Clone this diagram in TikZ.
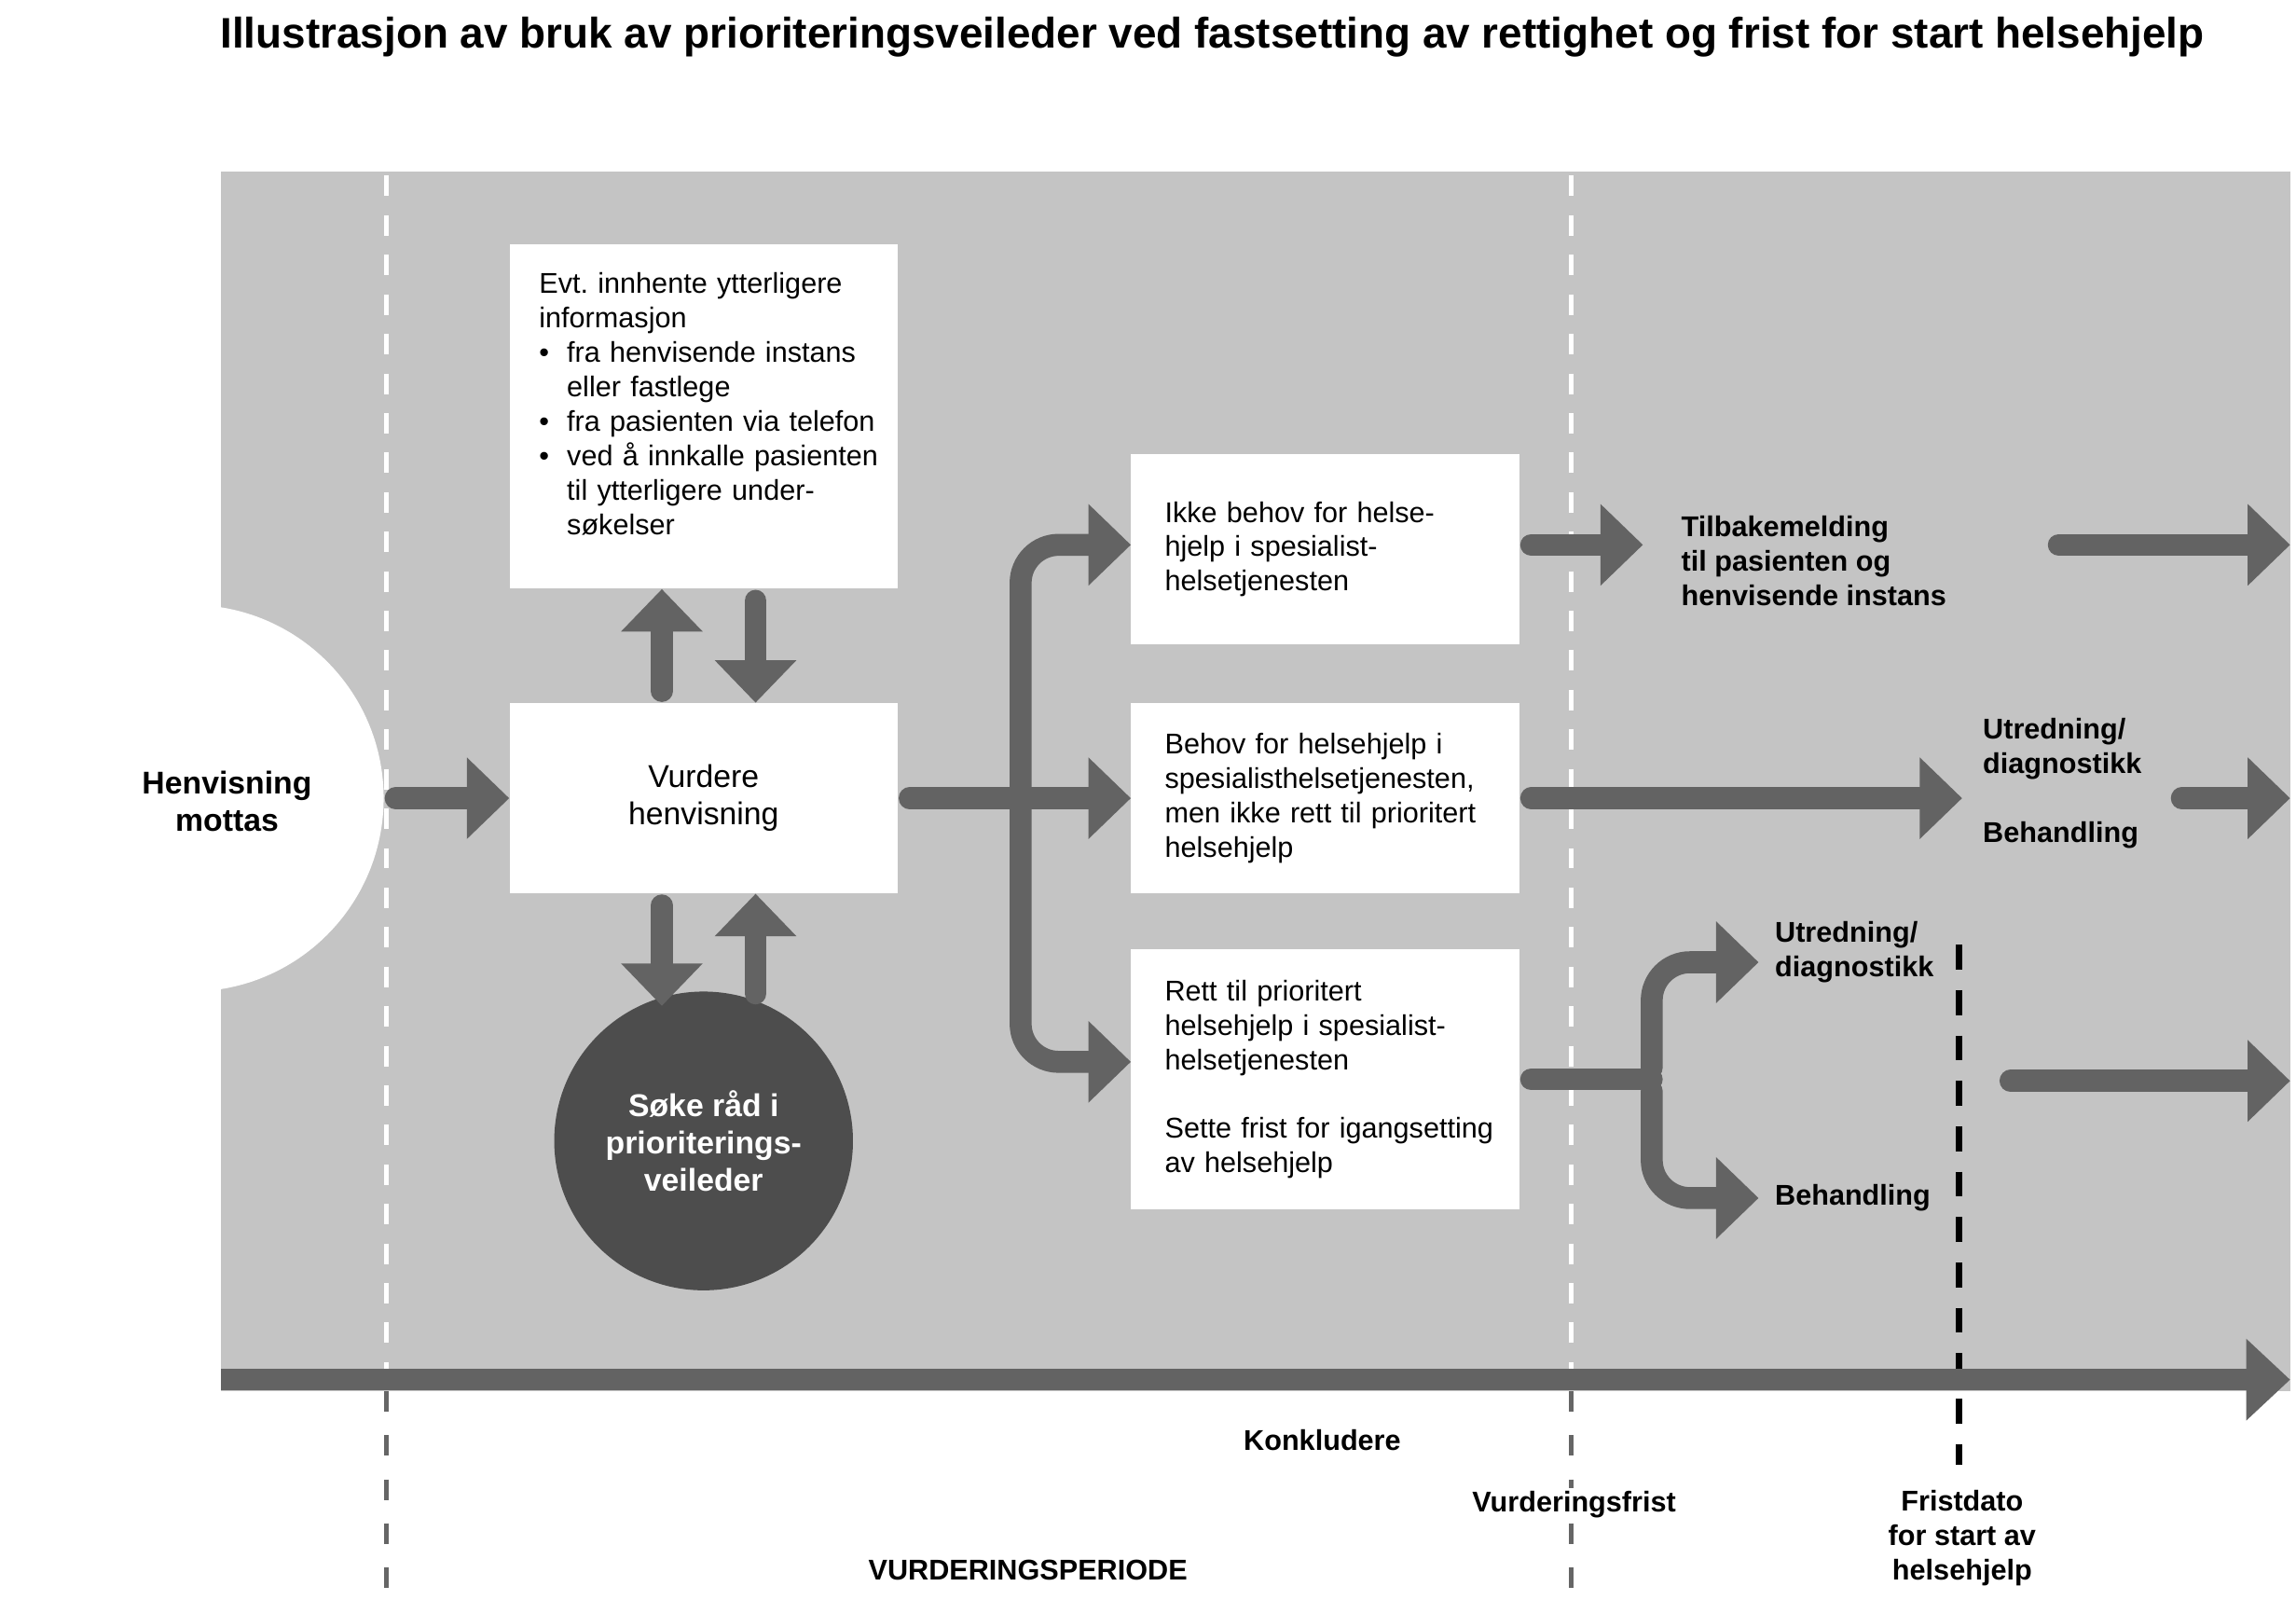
\documentclass[tikz,border=0pt]{standalone}
\usepackage{fontspec}
\setmainfont{Liberation Sans}
\usetikzlibrary{arrows.meta}
\definecolor{bggrey}{RGB}{196,196,196}
\definecolor{arrgrey}{RGB}{99,99,99}
\definecolor{ballgrey}{RGB}{77,77,77}
\definecolor{lingrey}{RGB}{102,102,102}
\newcommand\txtsize{\fontsize{19.5}{23.5}\selectfont}
\newcommand\midsize{\fontsize{21.5}{25.5}\selectfont}
\newcommand\bitem{\makebox[19pt][l]{\textbullet}}

\begin{document}
\begin{tikzpicture}[x=1pt,y=-1pt,
  wbox/.style={fill=white, minimum width=265pt, inner sep=0pt},
  btxt/.style={font=\txtsize, align=left, text width=219pt},
  lbl/.style={font=\txtsize\bfseries, align=left, inner sep=0pt, anchor=west},
  arr/.style={draw=arrgrey, line width=15pt, line cap=round, shorten <=8pt, -{Triangle[width=54pt,length=29pt]}},
  shaft/.style={draw=arrgrey, line width=15pt, line cap=round, shorten <=8pt},
  wdash/.style={white, line width=3pt, dash pattern=on 14pt off 13pt},
  gdash/.style={lingrey, line width=3pt, dash pattern=on 14pt off 16pt}]
\useasboundingbox (0,0) rectangle (1568,1092);
\node[font=\fontsize{29.2}{33}\selectfont\bfseries] (title) at (828,25) {Illustrasjon av bruk av prioriteringsveileder ved fastsetting av rettighet og frist for start helsehjelp};

% background and start
\fill[bggrey] (151,117) rectangle (1564,950);
\node[circle, fill=white, minimum size=264pt, inner sep=0pt] (henv) at (130,545) {};
\node[font=\midsize\bfseries, align=center] (henvtxt) at (155,547) {Henvisning\\mottas};

% time marks
\draw[wdash] (264,120) -- (264,935);
\draw[wdash] (1073,120) -- (1073,935);
\draw[gdash] (264,950) -- (264,1085);
\draw[gdash] (1073,950) -- (1073,1085);
\draw[black, line width=4.5pt, dash pattern=on 17pt off 14pt] (1338,645) -- (1338,1000);

% boxes
\node[wbox, minimum height=235pt] (evt) at (480.5,284.5) {};
\node[font=\txtsize, align=left, text width=240pt, anchor=north west, inner sep=0pt] (evttxt) at (368,186) {Evt.\ innhente ytterligere\\informasjon\\
\bitem fra henvisende instans\\\hspace*{19pt}eller fastlege\\
\bitem fra pasienten via telefon\\
\bitem ved å innkalle pasienten\\\hspace*{19pt}til ytterligere under-\\\hspace*{19pt}søkelser};
\node[wbox, minimum height=130pt, font=\midsize, align=center] (vurd) at (480.5,545) {Vurdere\\henvisning};
\node[circle, fill=ballgrey, minimum size=204pt, text=white, font=\midsize\bfseries, align=center] (sok) at (480.5,779) {Søke råd i\\prioriterings-\\veileder};
\node[wbox, btxt, minimum height=130pt] (ikke) at (905,375) {Ikke behov for helse-\\hjelp i spesialist-\\helsetjenesten};
\node[wbox, btxt, minimum height=130pt] (behov) at (905,545) {Behov for helsehjelp i\\spesialisthelsetjenesten,\\men ikke rett til prioritert\\helsehjelp};
\node[wbox, btxt, minimum height=178pt] (rett) at (905,737) {Rett til prioritert\\helsehjelp i spesialist-\\helsetjenesten\\[23.5pt]\mbox{Sette frist for igangsetting}\\av helsehjelp};

% outcomes
\node[lbl] (tilb) at (1148,383) {Tilbakemelding\\til pasienten og\\henvisende instans};
\node[lbl] (utr1) at (1354,535) {Utredning/\\diagnostikk\\[23.5pt]Behandling};
\node[lbl] (utr2) at (1212,650) {Utredning/\\diagnostikk};
\node[lbl] (beh2) at (1212,818) {Behandling};

% arrows
\draw[arr] (henv.east) -- (vurd.west);
\draw[arr] ([xshift=-28.5pt]vurd.north) -- ([xshift=-28.5pt]evt.south);
\draw[arr] ([xshift=35.5pt]evt.south) -- ([xshift=35.5pt]vurd.north);
\draw[arr] ([xshift=-28.5pt]vurd.south) -- ([xshift=-28.5pt,yshift=-10pt]sok.north);
\draw[arr] ([xshift=35.5pt,yshift=-9.5pt]sok.north) -- ([xshift=35.5pt]vurd.south);

\coordinate (fork1) at (697,545);
\draw[arr] (vurd.east) -- (behov.west);
\draw[arr, rounded corners=26pt] (fork1) |- ([yshift=3pt]ikke.west);
\draw[arr, rounded corners=26pt] (fork1) |- ([yshift=12pt]rett.west);

\coordinate (tilbin) at (1122,372);
\draw[arr] ([yshift=3pt]ikke.east) -- (tilbin);
\coordinate (out1a) at (1398,372);
\coordinate (out1b) at (1564,372);
\draw[arr] (out1a) -- (out1b);

\coordinate (utrin) at (1340,545);
\draw[arr] (behov.east) -- (utrin);
\coordinate (out2a) at (1482,545);
\coordinate (out2b) at (1564,545);
\draw[arr] (out2a) -- (out2b);

\coordinate (fork2) at (1128,737);
\coordinate (utrin2) at (1201,657);
\coordinate (behin2) at (1201,818);
\draw[shaft] (rett.east) -- (fork2);
\draw[arr, rounded corners=26pt] (fork2) |- (utrin2);
\draw[arr, rounded corners=26pt] (fork2) |- (behin2);
\coordinate (out3a) at (1365,738);
\coordinate (out3b) at (1564,738);
\draw[arr] (out3a) -- (out3b);

% time line
\coordinate (tl0) at (151,942);
\coordinate (tl1) at (1564,942);
\draw[draw=arrgrey, line width=15pt, -{Triangle[width=54pt,length=30pt]}] (tl0) -- (tl1);

% labels below
\node[font=\txtsize\bfseries] (konk) at (903,983) {Konkludere};
\node[font=\txtsize\bfseries, fill=white, inner sep=2pt] (vfrist) at (1075,1027) {Vurderingsfrist};
\node[font=\txtsize\bfseries, align=center] (fdato) at (1340,1050) {Fristdato\\for start av\\helsehjelp};
\node[font=\txtsize\bfseries] (vper) at (702,1072) {VURDERINGSPERIODE};
\end{tikzpicture}
\end{document}
